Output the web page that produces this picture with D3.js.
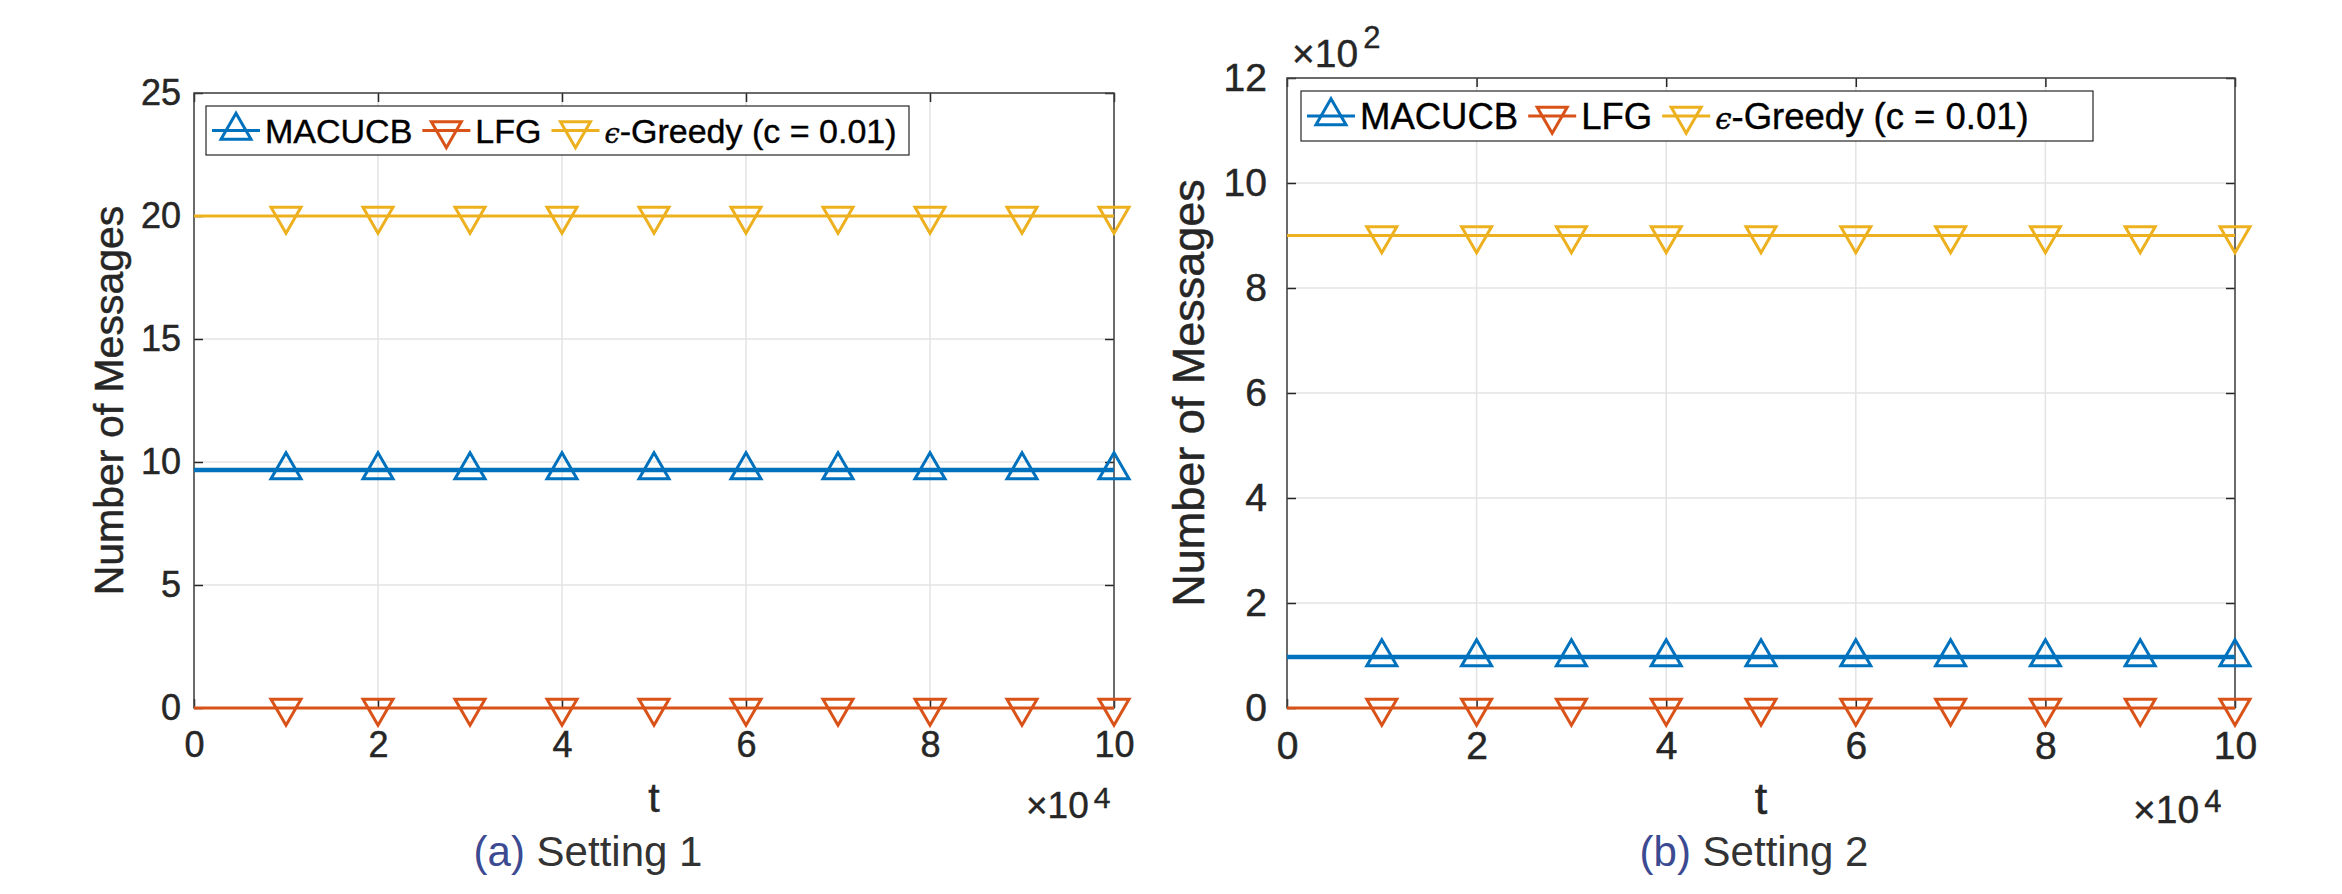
<!DOCTYPE html>
<html>
<head>
<meta charset="utf-8">
<script src="https://cdn.jsdelivr.net/npm/d3@7"></script>
<style>
  body { margin: 0; background: #fff; }
  svg { display: block; }
  text { font-family: "Liberation Sans", Arial, sans-serif; fill: #262626; }
</style>
</head>
<body>
<div id="chart"></div>
<script>
// ---- data ----
const seriesNames = ["MACUCB", "LFG", "\u03f5-Greedy (c = 0.01)"];
const seriesColors = ["#0072BD", "#D95319", "#EDB120"];
const seriesMarkers = ["up", "down", "down"];

// t range and the positions of the markers (every 10^4 steps)
const tRange = [1, 100000];
const markerT = [10000, 20000, 30000, 40000, 50000, 60000, 70000, 80000, 90000, 100000];
const xTicks = [0, 20000, 40000, 60000, 80000, 100000];

// number of messages per series, roughly flat over t
const setting1Values = [9.67, 0, 20];
const setting2Values = [97, 0, 900];

const yTicks1 = [0, 5, 10, 15, 20, 25];
const yTicks2 = [0, 200, 400, 600, 800, 1000, 1200];

// ---- layout ----
const width = 2342, height = 894;
const svg = d3.select("#chart").append("svg")
  .attr("width", width)
  .attr("height", height);

const panels = [
  {
    values: setting1Values, yTicks: yTicks1, yMax: 25, yDiv: 1,
    left: 194, right: 1114, top: 93, bottom: 708,
    tickFont: 36, labelFont: 41, yPad: 13,
    yLabelX: 123, tLabelY: 812,
    xExp: {x: 1026, y: 818, font: 37, sup: 30, supDy: -10},
    yExp: null,
    legend: {x: 206, y: 106, w: 703, h: 49, font: 34},
    caption: {tag: "(a)", text: " Setting 1", x: 588, y: 866}
  },
  {
    values: setting2Values, yTicks: yTicks2, yMax: 1200, yDiv: 100,
    left: 1287, right: 2235, top: 78, bottom: 708,
    tickFont: 39, labelFont: 45, yPad: 20,
    yLabelX: 1204, tLabelY: 814,
    xExp: {x: 2133, y: 823, font: 39, sup: 31, supDy: -11},
    yExp: {x: 1292, y: 67, font: 39, sup: 31, supDy: -19},
    legend: {x: 1301, y: 91, w: 792, h: 50, font: 36.5},
    caption: {tag: "(b)", text: " Setting 2", x: 1754, y: 866}
  }
];

const triSide = 30;
function triangle(dir) {
  // equilateral triangle centred on its centroid, like MATLAB's ^ and v markers
  const h = triSide * Math.sqrt(3) / 2;
  const s = dir === "up" ? 1 : -1;
  return `M0,${-s * 2 * h / 3}L${triSide / 2},${s * h / 3}L${-triSide / 2},${s * h / 3}Z`;
}

panels.forEach(p => drawPanel(p));

function drawPanel(p) {
  const x = d3.scaleLinear().domain([0, 100000]).range([p.left, p.right]);
  const y = d3.scaleLinear().domain([0, p.yMax]).range([p.bottom, p.top]);
  const g = svg.append("g");

  // grid
  g.append("g").selectAll("line").data(xTicks).join("line")
    .attr("x1", d => x(d)).attr("x2", d => x(d))
    .attr("y1", p.top).attr("y2", p.bottom)
    .attr("stroke", "#e3e3e3").attr("stroke-width", 1.5);
  g.append("g").selectAll("line").data(p.yTicks).join("line")
    .attr("x1", p.left).attr("x2", p.right)
    .attr("y1", d => y(d)).attr("y2", d => y(d))
    .attr("stroke", "#e3e3e3").attr("stroke-width", 1.5);

  // axes with inward ticks on all four sides
  const fmtX = d => d / 10000;
  const fmtY = d => d / p.yDiv;
  const axB = g.append("g").attr("transform", `translate(0,${p.bottom})`)
    .call(d3.axisBottom(x).tickValues(xTicks).tickFormat(fmtX).tickSizeInner(-9).tickSizeOuter(0).tickPadding(23));
  const axL = g.append("g").attr("transform", `translate(${p.left},0)`)
    .call(d3.axisLeft(y).tickValues(p.yTicks).tickFormat(fmtY).tickSizeInner(-9).tickSizeOuter(0).tickPadding(p.yPad));
  const axT = g.append("g").attr("transform", `translate(0,${p.top})`)
    .call(d3.axisTop(x).tickValues(xTicks).tickFormat("").tickSizeInner(-9).tickSizeOuter(0));
  const axR = g.append("g").attr("transform", `translate(${p.right},0)`)
    .call(d3.axisRight(y).tickValues(p.yTicks).tickFormat("").tickSizeInner(-9).tickSizeOuter(0));
  [axB, axL, axT, axR].forEach(a => {
    a.select(".domain").remove();
    a.selectAll(".tick line").attr("stroke", "#262626").attr("stroke-width", 1.5);
    a.selectAll(".tick text")
      .attr("font-size", p.tickFont)
      .attr("font-family", '"Liberation Sans", Arial, sans-serif')
      .attr("fill", "#262626")
      .attr("stroke", "#262626").attr("stroke-width", 0.5);
  });
  g.append("rect")
    .attr("x", p.left).attr("y", p.top)
    .attr("width", p.right - p.left).attr("height", p.bottom - p.top)
    .attr("fill", "none").attr("stroke", "#404040").attr("stroke-width", 1.5);

  // series lines and markers
  const line = d3.line().x(d => x(d[0])).y(d => y(d[1]));
  p.values.forEach((v, i) => {
    g.append("path")
      .datum(tRange.map(t => [t, v]))
      .attr("d", line)
      .attr("fill", "none")
      .attr("stroke", seriesColors[i])
      .attr("stroke-width", i === 0 ? 4.5 : 3);
    g.append("g").selectAll("path").data(markerT).join("path")
      .attr("transform", t => `translate(${x(t)},${y(v)})`)
      .attr("d", triangle(seriesMarkers[i]))
      .attr("fill", "none")
      .attr("stroke", seriesColors[i])
      .attr("stroke-width", 3);
  });

  // axis labels
  g.append("text")
    .attr("transform", `translate(${p.yLabelX},${(p.top + p.bottom) / 2}) rotate(-90)`)
    .attr("text-anchor", "middle")
    .attr("font-size", p.labelFont)
    .attr("stroke", "#262626").attr("stroke-width", 0.5)
    .text("Number of Messages");
  g.append("text")
    .attr("x", (p.left + p.right) / 2).attr("y", p.tLabelY)
    .attr("text-anchor", "middle")
    .attr("font-size", p.labelFont)
    .attr("stroke", "#262626").attr("stroke-width", 0.5)
    .text("t");

  // exponent labels
  [[p.xExp, "4"], [p.yExp, "2"]].forEach(([e, pow]) => {
    if (!e) return;
    const t = g.append("text").attr("x", e.x).attr("y", e.y).attr("font-size", e.font)
      .attr("stroke", "#262626").attr("stroke-width", 0.4);
    t.append("tspan").text("\u00d710");
    t.append("tspan").attr("dx", 5).attr("dy", e.supDy).attr("font-size", e.sup).text(pow);
  });

  // legend
  const L = p.legend;
  const lg = g.append("g");
  lg.append("rect")
    .attr("x", L.x).attr("y", L.y).attr("width", L.w).attr("height", L.h)
    .attr("fill", "#fff").attr("stroke", "#262626").attr("stroke-width", 1.2);
  let cx = L.x + 6;
  const cy = L.y + L.h / 2;
  seriesNames.forEach((name, i) => {
    lg.append("line")
      .attr("x1", cx).attr("x2", cx + 48).attr("y1", cy).attr("y2", cy)
      .attr("stroke", seriesColors[i]).attr("stroke-width", 3);
    lg.append("path")
      .attr("transform", `translate(${cx + 24},${cy})`)
      .attr("d", triangle(seriesMarkers[i]))
      .attr("fill", "none").attr("stroke", seriesColors[i]).attr("stroke-width", 3);
    const txt = lg.append("text")
      .attr("x", cx + 53).attr("y", cy).attr("dy", "0.36em")
      .attr("font-size", L.font).style("fill", "#000")
      .attr("stroke", "#000").attr("stroke-width", 0.4);
    if (name.startsWith("\u03f5")) {
      txt.append("tspan").attr("font-family", '"DejaVu Serif", serif').attr("font-style", "italic")
        .attr("font-size", L.font * 0.8).text("\u03f5");
      txt.append("tspan").text(name.slice(1));
    } else {
      txt.text(name);
    }
    cx = cx + 53 + txt.node().getComputedTextLength() + 10;
  });

  // caption
  const cap = svg.append("text")
    .attr("x", p.caption.x).attr("y", p.caption.y)
    .attr("text-anchor", "middle")
    .attr("font-family", "Lato, sans-serif")
    .attr("font-weight", 300)
    .attr("font-size", 42);
  cap.append("tspan").style("fill", "#3c4a92").text(p.caption.tag);
  cap.append("tspan").style("fill", "#333").text(p.caption.text);
}
</script>
</body>
</html>
